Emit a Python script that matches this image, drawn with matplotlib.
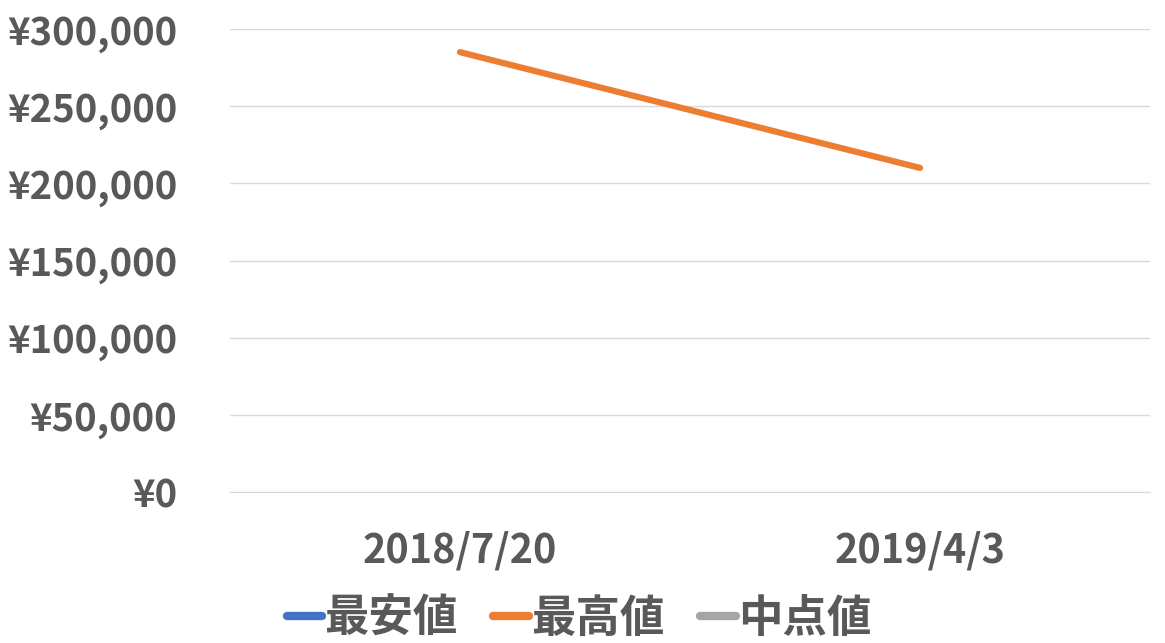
import numpy as np
import matplotlib
matplotlib.use("Agg")
import matplotlib.pyplot as plt
from matplotlib.ticker import FuncFormatter

plt.rcParams['font.family'] = ['Noto Sans CJK JP', 'DejaVu Sans']

dates = ["2018/7/20", "2019/4/3"]
series_names = ["最安値", "最高値", "中点値"]
min_price = [np.nan, np.nan]
max_price = [285000, 210000]
mid_price = [np.nan, np.nan]
colors = ["#4472C4", "#ED7D31", "#A5A5A5"]
text_color = "#595959"

fig = plt.figure(figsize=(11.65, 6.43), dpi=100)
ax = fig.add_axes([230 / 1165, 1 - 492 / 643, 920 / 1165, 463 / 643])

x = np.arange(len(dates))
for vals, name, c in zip([min_price, max_price, mid_price], series_names, colors):
    ax.plot(x, vals, color=c, lw=4.5, label=name, solid_capstyle="round")

ax.set_xlim(-0.5, len(dates) - 0.5)
ax.set_ylim(0, 300000)
ax.set_yticks(range(0, 300001, 50000))
ax.yaxis.set_major_formatter(FuncFormatter(lambda v, p: "¥{:,.0f}".format(v)))
ax.set_xticks(x)
ax.set_xticklabels(dates)

ax.grid(axis="y", color="#D9D9D9", lw=1)
ax.set_axisbelow(True)
for s in ["top", "right", "left"]:
    ax.spines[s].set_visible(False)
ax.spines["bottom"].set_color("#D9D9D9")
ax.tick_params(length=0, colors=text_color)
ax.tick_params(axis="y", pad=38, labelsize=27.5)
ax.tick_params(axis="x", pad=28, labelsize=28.5)
for lab in ax.get_xticklabels() + ax.get_yticklabels():
    lab.set_fontweight("bold")

leg = fig.legend(loc="lower center", bbox_to_anchor=(0.497, -0.06), ncol=3,
                 frameon=False, handlelength=0.8, handletextpad=0.05,
                 columnspacing=0.8, prop={"size": 32, "weight": "bold"})
for t in leg.get_texts():
    t.set_color(text_color)
for h in leg.get_lines():
    h.set_linewidth(6)

fig.savefig("out.png", dpi=100)
